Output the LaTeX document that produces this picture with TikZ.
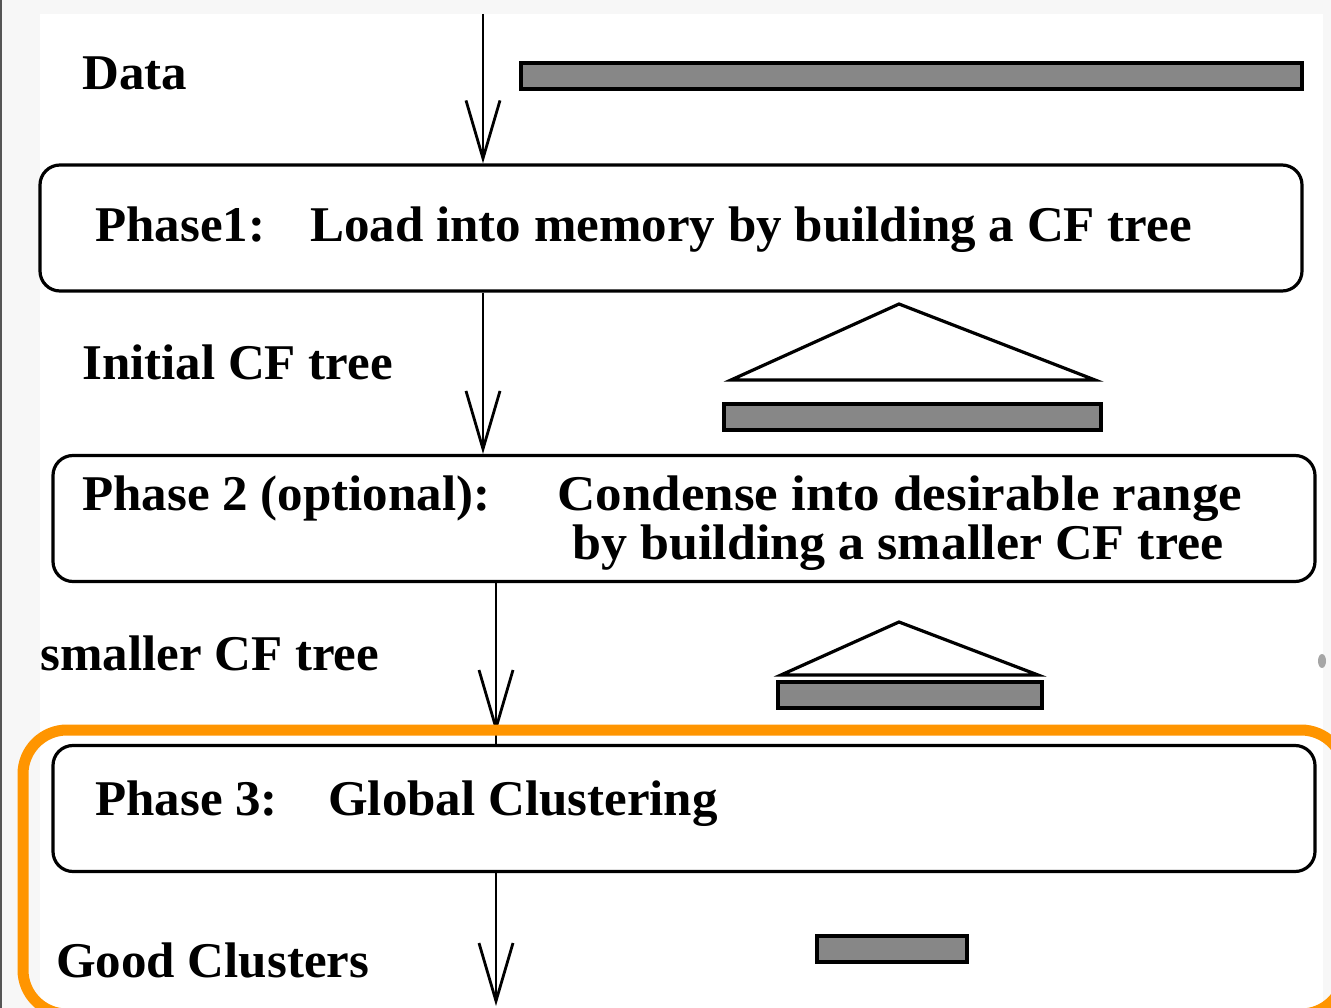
\documentclass[tikz,border=0pt]{standalone}
\usepackage{fontspec}
\setmainfont[FakeStretch=1.02]{Liberation Serif}
\usetikzlibrary{arrows.meta}
\definecolor{pagegray}{RGB}{247,247,247}
\definecolor{edgegray}{RGB}{85,85,85}
\definecolor{barfill}{RGB}{135,135,135}
\definecolor{highlight}{RGB}{255,149,0}
\tikzset{
  phasebox/.style={draw=black, line width=3.2pt, rounded corners=20pt, fill=white,
    minimum width=1262pt, minimum height=126pt, inner sep=0pt},
  databar/.style={draw=black, line width=3.2pt, fill=barfill},
  treeshape/.style={draw=black, line width=3.2pt, fill=white, line join=miter},
  flow/.style={line width=2.8pt, -{Straight Barb[length=58pt, width=34pt, line width=2.8pt]}},
  label/.style={anchor=base west, inner sep=0pt, font=\bfseries\fontsize{50}{58}\selectfont},
  ctext/.style={anchor=base, inner sep=0pt, font=\bfseries\fontsize{50}{58}\selectfont}
}
\begin{document}
\begin{tikzpicture}[x=1pt, y=-1pt]
  \useasboundingbox (0,0) rectangle (1331,1008);
  \clip (0,0) rectangle (1331,1008);
  % page background and white sheet
  \fill[pagegray] (0,0) rectangle (1331,1008);
  \fill[white] (40,14) rectangle (1323,1008);
  \fill[edgegray] (0,0) rectangle (2,1008);
  \fill[gray!70] (1322,661) ellipse (4 and 7);

  % phase boxes
  \node[phasebox] (p1) at (671,228) {};
  \node[phasebox] (p2) at (684,518.5) {};
  \node[phasebox] (p3) at (684,808.5) {};

  % labels
  \node[label] (tdata) at (82,90) {Data};
  \node[label] (tp1a) at (95,242) {Phase1:};
  \node[label] (tp1b) at (310,242) {Load into memory by building a CF tree};
  \node[label] (tinit) at (82,380) {Initial CF tree};
  \node[label] (tp2a) at (82,510) {Phase 2 (optional):};
  \node[ctext, xscale=1.04] (tp2b) at (900,510) {Condense into desirable range};
  \node[ctext, xscale=1.02] (tp2c) at (898,559) {by building a smaller CF tree};
  \node[label] (tsmall) at (40,670) {smaller CF tree};
  \node[label] (tp3a) at (95,815) {Phase 3:};
  \node[label] (tp3b) at (328,815) {Global Clustering};
  \node[label] (tgood) at (56,977) {Good Clusters};

  % data bars and CF trees
  \draw[databar] (521,63) rectangle (1302,89);
  \draw[treeshape] (899,304) -- (1095,380) -- (731,380) -- cycle;
  \draw[databar] (724,404) rectangle (1101,430);
  \draw[treeshape] (899,622) -- (1038,675) -- (781,675) -- cycle;
  \draw[databar] (778,682) rectangle (1042,708);
  \draw[databar] (817,936) rectangle (967,962);

  % flow arrows
  \coordinate (src) at (483,14);
  \coordinate (mid3) at (496,733);
  \coordinate (sink) at (496,1006);
  \draw[flow] (src) -- (src |- p1.north);
  \draw[flow] (p1.south -| src) -- (src |- p2.north);
  \draw[flow] (p2.south -| mid3) -- (mid3);
  \draw[line width=2.8pt] (mid3) -- (mid3 |- p3.north);
  \draw[flow] (p3.south -| sink) -- (sink);

  % highlight frame around the final phase
  \draw[highlight, line width=11pt, rounded corners=44pt] (23,730) rectangle (1345,1014);
\end{tikzpicture}
\end{document}
